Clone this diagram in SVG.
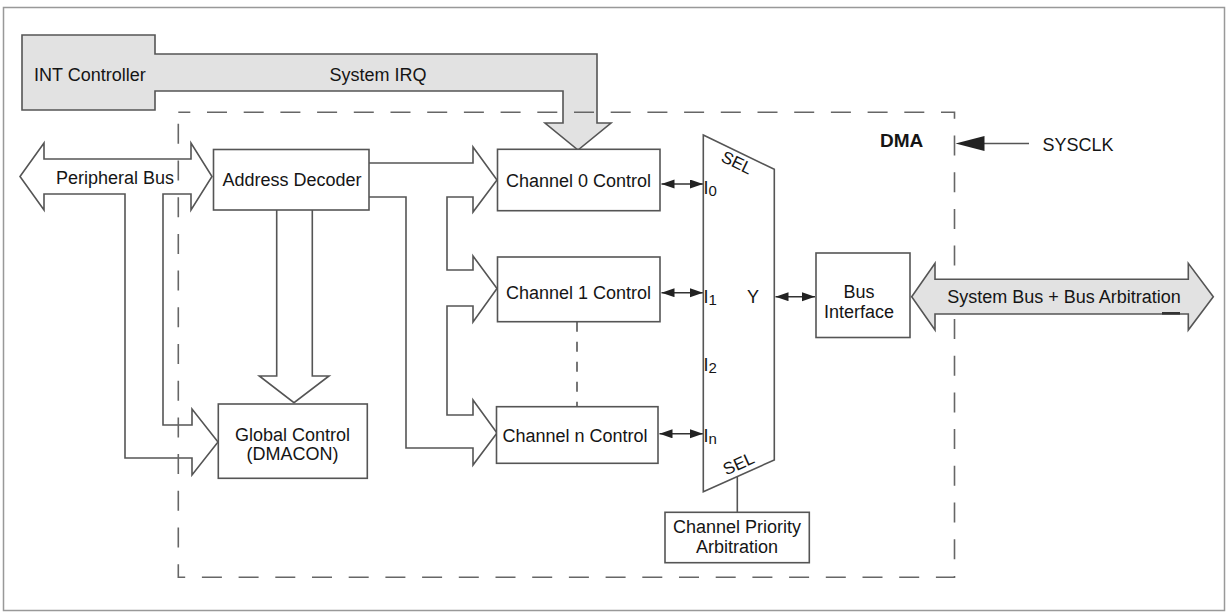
<svg xmlns="http://www.w3.org/2000/svg" width="1228" height="612" viewBox="0 0 1228 612">
<style>
.frame{fill:#fff;stroke:#999;stroke-width:1.5}
.ln{fill:none;stroke:#555;stroke-width:1.6}
.box{fill:#fff;stroke:#555;stroke-width:1.6}
.bus{fill:#fff;stroke:#555;stroke-width:1.6;stroke-linejoin:miter}
.gbus{fill:#e2e2e2;stroke:#555;stroke-width:1.6;stroke-linejoin:miter}
.dash{fill:none;stroke:#666;stroke-width:1.6;stroke-dasharray:20 16.7;stroke-dashoffset:8}
.dots{fill:none;stroke:#555;stroke-width:1.6;stroke-dasharray:10 10}
.t{font-family:"Liberation Sans",Arial,Helvetica,sans-serif;font-size:18px;fill:#151515}
.c{text-anchor:middle}
.sub{font-size:15px}
.bold{font-weight:bold;font-size:19px}
.sel{font-size:17px}
.bi{fill:none;stroke:#333;stroke-width:1.5;marker-start:url(#ah);marker-end:url(#ah)}
</style>
<defs>
<marker id="ah" markerUnits="userSpaceOnUse" markerWidth="14" markerHeight="10" refX="13" refY="4.5" orient="auto-start-reverse">
<path d="M0,0 L13,4.5 L0,9 z" fill="#222"/>
</marker>
</defs>

<rect class="frame" x="3.5" y="7.5" width="1221" height="603"/>

<g id="int-controller">
<polygon class="gbus" points="22,35 155,35 155,54 597,54 597,123 611,123 578,150 545,123 563,123 563,91 155,91 155,110 22,110"/>
<text class="t" x="34" y="80.5">INT Controller</text>
<text class="t c" x="378" y="80.5">System IRQ</text>
</g>

<g id="peripheral-bus">
<polygon class="bus" points="20,176.5 44,143 44,159 191,159 191,143 212,176.5 191,210 191,194 163,194 163,425 192,425 192,409 218,442 192,475 192,458 125,458 125,194 44,194 44,210"/>
<text class="t" x="56" y="184">Peripheral Bus</text>
</g>

<g id="connectors">
<polyline class="bus" points="369,163 473,163 473,147 497,180 473,212 473,197 447,197 447,270 473,270 473,256 497,288.5 473,322 473,306 447,306 447,415 473,415 473,400 497,433 473,465 473,448 406,448 406,197 369,197"/>
<polyline class="bus" points="276.7,210 276.7,376 259.3,376 294,402.7 329,376 312.3,376 312.3,210"/>
<line class="bi" x1="661.5" y1="184" x2="703" y2="184"/>
<line class="bi" x1="661.5" y1="292.7" x2="703" y2="292.7"/>
<line class="bi" x1="659.5" y1="433.8" x2="703" y2="433.8"/>
<line class="bi" x1="775.5" y1="296.7" x2="815" y2="296.7"/>
<line class="ln" x1="737.3" y1="476.5" x2="737.3" y2="512.3"/>
<line class="dots" x1="577" y1="321.7" x2="577" y2="407"/>
<line class="ln" x1="984" y1="143.5" x2="1029" y2="143.5"/>
<polygon points="955.5,143.5 984.5,136 984.5,151" fill="#222"/>
</g>

<g id="address-decoder">
<rect class="box" x="213.5" y="149.5" width="155.5" height="60.5"/>
<text class="t c" x="292" y="185.5">Address Decoder</text>
</g>

<g id="global-control">
<rect class="box" x="218.3" y="404" width="149" height="74.3"/>
<text class="t c" x="292.5" y="440.5">Global Control</text>
<text class="t c" x="292.5" y="460">(DMACON)</text>
</g>

<g id="channel-0">
<rect class="box" x="497.5" y="149.3" width="162.5" height="61.4"/>
<text class="t c" x="578.5" y="187">Channel 0 Control</text>
</g>

<g id="channel-1">
<rect class="box" x="497.5" y="257" width="162.5" height="64.7"/>
<text class="t c" x="578.5" y="298.5">Channel 1 Control</text>
</g>

<g id="channel-n">
<rect class="box" x="496.5" y="406.7" width="161.5" height="56.6"/>
<text class="t c" x="575" y="441.5">Channel n Control</text>
</g>

<g id="mux">
<polygon class="box" points="703.3,135 774.3,169.3 774.3,460 703.3,491.7"/>
<text class="t sel c" transform="translate(737,162.5) rotate(25.6)" y="6">SEL</text>
<text class="t sel c" transform="translate(738.5,463.5) rotate(-24.3)" y="6">SEL</text>
<text class="t" x="703.6" y="194">I<tspan class="sub" dy="2">0</tspan></text>
<text class="t" x="703.6" y="302.7">I<tspan class="sub" dy="2">1</tspan></text>
<text class="t" x="703.6" y="370.7">I<tspan class="sub" dy="2">2</tspan></text>
<text class="t" x="703.6" y="441.7">I<tspan class="sub" dy="2">n</tspan></text>
<text class="t" x="747" y="302.7">Y</text>
</g>

<g id="channel-priority-arbitration">
<rect class="box" x="665" y="512.3" width="144.3" height="50.4"/>
<text class="t c" x="737" y="532.5">Channel Priority</text>
<text class="t c" x="737" y="553">Arbitration</text>
</g>

<g id="bus-interface">
<rect class="box" x="816" y="253" width="94" height="84.5"/>
<text class="t c" x="859" y="298">Bus</text>
<text class="t c" x="859" y="317.5">Interface</text>
</g>

<g id="dma">
<path class="dash" d="M178.3,112.3 H954.5 V577.3 H178.3 Z"/>
<text class="t bold" x="880" y="147">DMA</text>
</g>

<g id="system-bus">
<polygon class="gbus" points="911.7,296.7 935,263.3 935,279.3 1188.3,279.3 1188.3,263.3 1213.3,296.7 1188.3,330 1188.3,314 935,314 935,330"/>
<line x1="1162" y1="313.3" x2="1180" y2="313.3" stroke="#333" stroke-width="2.6"/>
<text class="t c" x="1064" y="303">System Bus + Bus Arbitration</text>
</g>

<g id="sysclk">
<text class="t" x="1042.5" y="151">SYSCLK</text>
</g>
</svg>
